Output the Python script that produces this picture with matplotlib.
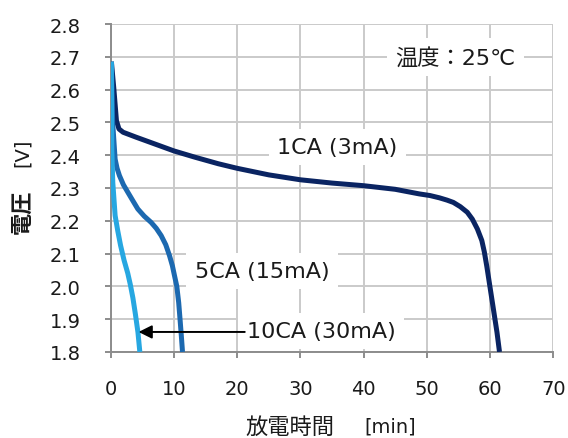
import matplotlib
matplotlib.use("Agg")
import matplotlib.pyplot as plt

plt.rcParams['font.family'] = ['DejaVu Sans', 'Noto Sans CJK JP']

# discharge curves: time [min], voltage [V]
t_1ca = [0.1, 0.5, 0.9, 1.3, 1.95, 4.0, 7.0, 10.0, 13.3, 17.0, 20.0, 25.0, 30.0, 35.0,
         40.0, 45.0, 48.8, 50.5, 52.0, 53.2, 54.2, 55.3, 56.4, 57.2, 58.0, 58.7,
         59.1, 59.5, 59.9, 60.3, 60.7, 61.1, 61.5]
v_1ca = [2.685, 2.60, 2.505, 2.48, 2.47, 2.455, 2.434, 2.413, 2.394, 2.374, 2.36, 2.34,
         2.325, 2.315, 2.307, 2.296, 2.282, 2.277, 2.27, 2.263, 2.256, 2.243, 2.226,
         2.205, 2.175, 2.14, 2.105, 2.06, 2.01, 1.96, 1.91, 1.86, 1.80]

t_5ca = [0.1, 0.3, 0.69, 1.0, 1.37, 2.0, 2.7, 3.5, 4.28, 5.3, 6.39, 7.2, 7.97, 8.7,
         9.29, 9.75, 10.08, 10.45, 10.75, 11.0, 11.2, 11.35]
v_5ca = [2.685, 2.50, 2.388, 2.36, 2.338, 2.31, 2.287, 2.261, 2.236, 2.214, 2.195, 2.177,
         2.155, 2.127, 2.094, 2.063, 2.033, 2.0, 1.95, 1.89, 1.84, 1.80]

t_10ca = [0.1, 0.16, 0.32, 0.69, 1.1, 1.55, 2.1, 2.69, 3.1, 3.5, 3.9, 4.3, 4.6]
v_10ca = [2.685, 2.42, 2.317, 2.216, 2.17, 2.125, 2.08, 2.04, 2.005, 1.965, 1.915, 1.86, 1.80]

labels = ["1CA (3mA)", "5CA (15mA)", "10CA (30mA)"]
x_ticks = [0, 10, 20, 30, 40, 50, 60, 70]
y_ticks = [1.8, 1.9, 2.0, 2.1, 2.2, 2.3, 2.4, 2.5, 2.6, 2.7, 2.8]

fig = plt.figure(figsize=(5.68, 4.39), dpi=100)
ax = fig.add_axes([0.195, 0.196, 0.779, 0.747])

ax.plot(t_1ca, v_1ca, color="#0a2462", lw=3.6, solid_capstyle="butt", solid_joinstyle="round", zorder=3)
ax.plot(t_5ca, v_5ca, color="#1c69b0", lw=3.6, solid_capstyle="butt", solid_joinstyle="round", zorder=3)
ax.plot(t_10ca, v_10ca, color="#27a7e1", lw=3.6, solid_capstyle="butt", solid_joinstyle="round", zorder=4)

ax.set_xlim(0, 70)
ax.set_ylim(1.8, 2.8)
ax.set_xticks(x_ticks)
ax.set_yticks(y_ticks)
ax.set_yticklabels([f"{v:.1f}" for v in y_ticks])
ax.grid(True, color="#cacaca", lw=1.4)
ax.set_axisbelow(True)
for s in ["top", "right"]:
    ax.spines[s].set_visible(False)
for s in ["left", "bottom"]:
    ax.spines[s].set_color("#8c8c8c")
    ax.spines[s].set_linewidth(1.4)
ax.tick_params(direction="out", length=4.5, width=1.4, color="#8c8c8c",
               labelsize=14, labelcolor="#1a1a1a")
ax.tick_params(axis="y", pad=17)
ax.tick_params(axis="x", pad=15)

box = dict(facecolor="white", edgecolor="none", pad=6)
ax.text(45.0, 2.70, "温度：25℃", fontsize=16, ha="left", va="center", bbox=box, color="#1a1a1a")
ax.text(26.3, 2.425, labels[0], fontsize=16, ha="left", va="center", bbox=box, color="#1a1a1a")
ax.text(13.3, 2.047, labels[1], fontsize=16, ha="left", va="center", bbox=box, color="#1a1a1a")
ax.text(21.5, 1.864, labels[2], fontsize=16, ha="left", va="center", bbox=box, color="#1a1a1a")
ax.annotate("", xy=(4.4, 1.861), xytext=(21.2, 1.861),
            arrowprops=dict(arrowstyle="-|>", color="black", lw=1.4, mutation_scale=20,
                            shrinkA=0, shrinkB=0), zorder=5)

fig.text(0.040, 0.517, "電圧", rotation=90, fontsize=16, fontweight="bold",
         ha="center", va="center", color="#1a1a1a")
fig.text(0.040, 0.651, "[V]", rotation=90, fontsize=14, ha="center", va="center", color="#1a1a1a")
fig.text(0.511, 0.027, "放電時間", fontsize=16, ha="center", va="center", color="#1a1a1a")
fig.text(0.687, 0.027, "[min]", fontsize=14, ha="center", va="center", color="#1a1a1a")

fig.savefig("out.png", dpi=100)
